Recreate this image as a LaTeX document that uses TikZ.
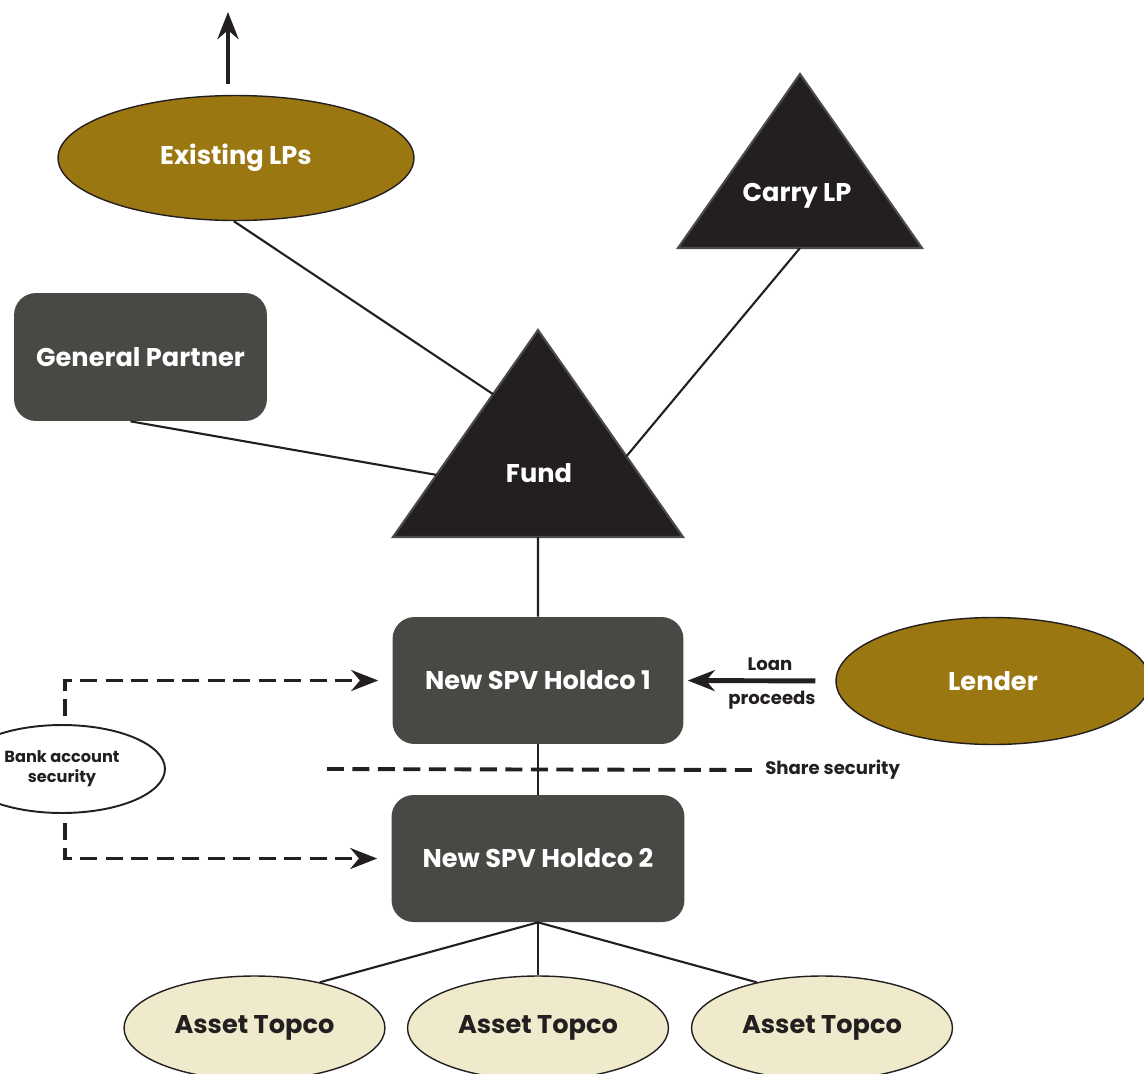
\documentclass[tikz,border=0pt]{standalone}
\usepackage{fontspec}
\setmainfont{Poppins}
\usetikzlibrary{shapes.geometric,arrows.meta,calc}

\definecolor{lpgold}{HTML}{9B7712}
\definecolor{tridark}{HTML}{231F20}
\definecolor{triedge}{HTML}{4B4C49}
\definecolor{boxgray}{HTML}{474945}
\definecolor{topcream}{HTML}{EEEACB}
\definecolor{inkdark}{HTML}{231F20}

\tikzset{
  goldoval/.style={ellipse, draw=inkdark, line width=0.8pt, fill=lpgold, text=white, inner sep=0pt},
  creamoval/.style={ellipse, draw=inkdark, line width=0.8pt, fill=topcream, text=inkdark, inner sep=0pt,
    minimum width=5.22cm, minimum height=2.08cm},
  entitybox/.style={rectangle, rounded corners=0.44cm, fill=boxgray, text=white, inner sep=0pt,
    minimum width=5.82cm, minimum height=2.54cm},
  smalllabel/.style={font=\bfseries\fontsize{10.3}{12.5}\selectfont, text=inkdark, inner sep=0pt},
  link/.style={draw=inkdark, line width=1.2pt},
  secline/.style={draw=inkdark, line width=2.2pt, dash pattern=on 0.34cm off 0.17cm},
  flow/.style={draw=inkdark, line width=2.8pt, ->}
}

\begin{document}
\begin{tikzpicture}[x=0.02cm, y=-0.02cm, >={Stealth[length=0.54cm, width=0.42cm]},
    every node/.style={font=\bfseries\fontsize{14.6}{17}\selectfont}]
    \useasboundingbox (0,0) rectangle (1144,1073);
    \clip (0,0) rectangle (1144,1073);

    % Triangles
    \coordinate (carry-top) at (800,74);
    \coordinate (carry-left) at (678,248);
    \coordinate (carry-right) at (922,248);
    \filldraw[fill=tridark, draw=triedge, line width=1.2pt] (carry-top) -- (carry-left) -- (carry-right) -- cycle;
    \node[text=white] at (797,196) (carry) {Carry LP};

    \coordinate (fund-top) at (538,330);
    \coordinate (fund-left) at (393,537);
    \coordinate (fund-right) at (683,537);
    \filldraw[fill=tridark, draw=triedge, line width=1.2pt] (fund-top) -- (fund-left) -- (fund-right) -- cycle;
    \node[text=white] at (539,473) (fund) {Fund};

    % Nodes
    \node[goldoval, minimum width=7.12cm, minimum height=2.5cm] at (236,158) (elp) {Existing LPs};
    \node[entitybox, minimum width=5.06cm, minimum height=2.56cm] at (140.5,357) (gp) {General Partner};
    \node[entitybox] at (538,680.5) (holdco1) {New SPV Holdco 1};
    \node[entitybox, minimum width=5.86cm] at (538,858.5) (holdco2) {New SPV Holdco 2};
    \node[goldoval, minimum width=6.28cm, minimum height=2.54cm] at (993,681) (lender) {Lender};
    \node[ellipse, draw=inkdark, line width=1.1pt, fill=white, smalllabel, align=center,
        font=\bfseries\fontsize{9.2}{11.5}\selectfont,
        minimum width=4.12cm, minimum height=1.76cm] at (62,769) (bank) {Bank account\\security};
    \node[creamoval] at (254.5,1028) (asset1) {Asset Topco};
    \node[creamoval] at (538,1028) (asset2) {Asset Topco};
    \node[creamoval] at (822,1028) (asset3) {Asset Topco};

    \node[smalllabel] at (770,664) (loan) {Loan};
    \node[smalllabel] at (772,700) (proceeds) {proceeds};
    \node[smalllabel, anchor=west] at (765,770) (share) {Share security};

    \coordinate (exit-foot) at (228,84);
    \coordinate (exit-tip) at (228,12);
    \coordinate (share-start) at (327,769);

    % Edges
    \draw[flow] (exit-foot) -- (exit-tip);
    \draw[link] (elp.-92) -- ($(fund-top)!0.31!(fund-left)$);
    \draw[link] ([xshift=-0.2cm]gp.south) -- ($(fund-top)!0.70!(fund-left)$);
    \draw[link] ($(carry-left)!0.5!(carry-right)$) -- ($(fund-top)!0.61!(fund-right)$);
    \draw[link] ($(fund-left)!0.5!(fund-right)$) -- (holdco1.north);
    \draw[link] (holdco1.south) -- (holdco2.north);
    \draw[link] (holdco2.south) -- (asset1.35);
    \draw[link] (holdco2.south) -- (asset2.north);
    \draw[link] (holdco2.south) -- (asset3.145);

    \draw[flow, shorten <=0.4cm, shorten >=0.08cm] (lender.west) -- (holdco1.east);
    \draw[secline, shorten >=0.26cm] (share-start) -- (share.west);
    \draw[secline, ->, shorten <=0.16cm, shorten >=0.28cm] ([xshift=0.06cm]bank.north) |- (holdco1.west);
    \draw[secline, ->, shorten <=0.18cm, shorten >=0.28cm] ([xshift=0.06cm]bank.south) |- (holdco2.west);
\end{tikzpicture}
\end{document}
